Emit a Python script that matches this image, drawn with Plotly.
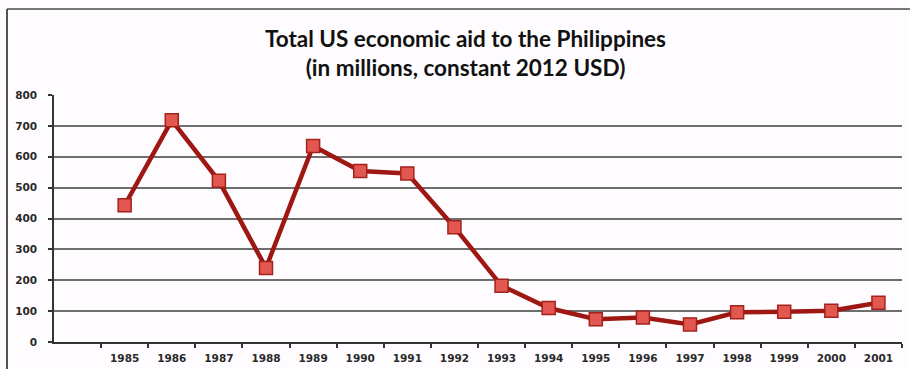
import plotly.graph_objects as go

# Total US economic aid to the Philippines, millions of constant 2012 USD
years = [1985, 1986, 1987, 1988, 1989, 1990, 1991, 1992, 1993,
         1994, 1995, 1996, 1997, 1998, 1999, 2000, 2001]
aid = [443, 718, 522, 240, 635, 554, 546, 372, 182,
       110, 74, 79, 57, 96, 98, 101, 127]
y_ticks = [0, 100, 200, 300, 400, 500, 600, 700, 800]
title_text = "Total US economic aid to the Philippines<br>(in millions, constant 2012 USD)"

W, H = 910, 369
ML, MR, MT, MB = 54, 8, 95, 27
pw, ph = W - ML - MR, H - MT - MB

def px_x(x):
    return (x - ML) / pw

def px_y(y):
    return (H - MB - y) / ph

tick_font = dict(family="DejaVu Sans", size=10.5, color="#2a2a2a", weight="bold")

fig = go.Figure()
fig.add_trace(go.Scatter(
    x=years, y=aid, mode="lines+markers",
    line=dict(color="#9e1712", width=4.5),
    marker=dict(symbol="square", size=13, color="#e2574f",
                line=dict(color="#a4221c", width=1.5)),
    showlegend=False, hoverinfo="x+y",
))

fig.add_annotation(
    text=title_text, xref="paper", yref="paper",
    x=px_x(465), y=px_y(53), xanchor="center", yanchor="middle",
    showarrow=False,
    font=dict(family="Lato", size=22.5, color="#111", weight="bold"),
)

fig.update_layout(
    width=W, height=H,
    margin=dict(l=ML, r=MR, t=MT, b=MB, autoexpand=False),
    paper_bgcolor="#fffcff", plot_bgcolor="#fffcff",
    xaxis=dict(
        range=[1983.5, 2001.5], tickmode="array", tickvals=years,
        ticktext=[str(y) for y in years], ticks="", showgrid=False,
        ticklabelstandoff=6, automargin=False,
        showline=True, linecolor="#333", linewidth=1.5, zeroline=False,
        tickfont=tick_font,
        minor=dict(tickmode="array", tickvals=[y - 0.5 for y in years] + [2001.5],
                   ticks="outside", ticklen=4, tickcolor="#333", tickwidth=1.5,
                   showgrid=False),
        fixedrange=True,
    ),
    yaxis=dict(
        range=[0, 800], tickmode="array", tickvals=y_ticks,
        ticks="outside", ticklen=4, tickcolor="#333", tickwidth=1.5,
        ticklabelstandoff=9, automargin=False,
        showgrid=True, gridcolor="#6e6e6e", gridwidth=1.5,
        showline=True, linecolor="#333", linewidth=1.5, zeroline=False,
        tickfont=tick_font,
        fixedrange=True,
    ),
    shapes=[
        # outer frame (top and left edges visible)
        dict(type="line", xref="paper", yref="paper",
             x0=px_x(7), y0=px_y(9), x1=px_x(W + 20), y1=px_y(9),
             line=dict(color="#777", width=2)),
        dict(type="line", xref="paper", yref="paper",
             x0=px_x(7), y0=px_y(9), x1=px_x(7), y1=px_y(H + 20),
             line=dict(color="#555", width=2)),
    ],
)

fig.write_html("out.html")
